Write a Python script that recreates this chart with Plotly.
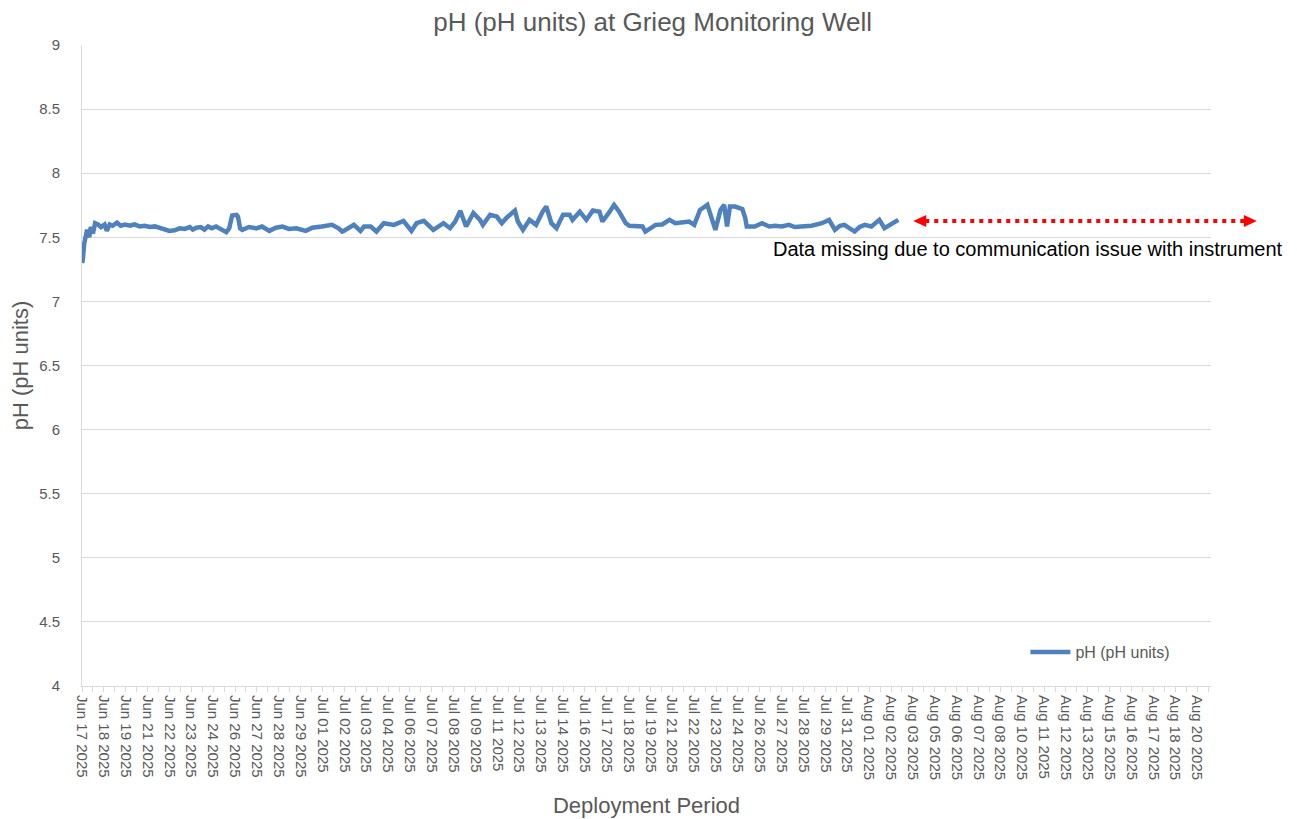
import plotly.graph_objects as go

# ---- data (hours since deployment start, pH) ----
hours = [0, 1, 3, 4, 7, 10, 12, 15, 18, 22, 26, 31, 34, 38, 42, 48, 53, 59, 66, 72,
         79, 86, 93, 100, 107, 113, 120, 127, 134, 141, 148, 152, 157, 163, 168, 173,
         178, 184, 193, 198, 202, 206, 212, 214, 217, 220, 229, 239, 247, 257, 266,
         275, 284, 294, 307, 316, 329, 343, 352, 357, 359, 373, 382, 387, 396, 404,
         414, 428, 441, 452, 459, 469, 482, 496, 505, 512, 519, 525, 527, 537, 546,
         550, 560, 569, 576, 582, 594, 598, 605, 614, 623, 632, 637, 644, 651, 660,
         669, 673, 683, 692, 701, 710, 714, 724, 730, 737, 746, 751, 769, 773, 787,
         796, 806, 814, 824, 833, 840, 848, 858, 865, 869, 876, 881, 885, 889, 896,
         906, 910, 912, 923, 933, 943, 951, 960, 970, 978, 988, 1001, 1015, 1025,
         1033, 1040, 1046, 1053, 1060, 1067, 1074, 1083, 1094, 1101, 1111, 1120]
ph = [7.30, 7.32, 7.45, 7.47, 7.56, 7.50, 7.58, 7.53, 7.61, 7.60, 7.58, 7.60, 7.55,
      7.60, 7.59, 7.615, 7.59, 7.60, 7.59, 7.60, 7.585, 7.59, 7.58, 7.585, 7.57, 7.56,
      7.55, 7.555, 7.57, 7.565, 7.58, 7.56, 7.575, 7.58, 7.56, 7.585, 7.57, 7.584,
      7.558, 7.54, 7.57, 7.67, 7.675, 7.66, 7.57, 7.558, 7.58, 7.57, 7.584, 7.55,
      7.575, 7.584, 7.565, 7.57, 7.55, 7.575, 7.584, 7.597, 7.57, 7.545, 7.55, 7.597,
      7.55, 7.584, 7.584, 7.545, 7.61, 7.597, 7.628, 7.55, 7.61, 7.628, 7.558, 7.61,
      7.571, 7.623, 7.706, 7.61, 7.584, 7.69, 7.636, 7.597, 7.676, 7.662, 7.61, 7.649,
      7.709, 7.623, 7.558, 7.636, 7.597, 7.70, 7.74, 7.61, 7.571, 7.676, 7.676, 7.636,
      7.70, 7.636, 7.709, 7.70, 7.623, 7.70, 7.753, 7.70, 7.61, 7.59, 7.584, 7.545,
      7.597, 7.60, 7.636, 7.61, 7.62, 7.623, 7.597, 7.714, 7.753, 7.62, 7.558, 7.714,
      7.753, 7.584, 7.74, 7.74, 7.72, 7.65, 7.584, 7.584, 7.61, 7.584, 7.59, 7.584,
      7.597, 7.58, 7.584, 7.59, 7.61, 7.636, 7.558, 7.59, 7.597, 7.57, 7.545, 7.58,
      7.597, 7.584, 7.636, 7.571, 7.61, 7.636]

tick_labels = [
    "Jun 17 2025", "Jun 18 2025", "Jun 19 2025", "Jun 21 2025", "Jun 22 2025",
    "Jun 23 2025", "Jun 24 2025", "Jun 26 2025", "Jun 27 2025", "Jun 28 2025",
    "Jun 29 2025", "Jul 01 2025", "Jul 02 2025", "Jul 03 2025", "Jul 04 2025",
    "Jul 06 2025", "Jul 07 2025", "Jul 08 2025", "Jul 09 2025", "Jul 11 2025",
    "Jul 12 2025", "Jul 13 2025", "Jul 14 2025", "Jul 16 2025", "Jul 17 2025",
    "Jul 18 2025", "Jul 19 2025", "Jul 21 2025", "Jul 22 2025", "Jul 23 2025",
    "Jul 24 2025", "Jul 26 2025", "Jul 27 2025", "Jul 28 2025", "Jul 29 2025",
    "Jul 31 2025", "Aug 01 2025", "Aug 02 2025", "Aug 03 2025", "Aug 05 2025",
    "Aug 06 2025", "Aug 07 2025", "Aug 08 2025", "Aug 10 2025", "Aug 11 2025",
    "Aug 12 2025", "Aug 13 2025", "Aug 15 2025", "Aug 16 2025", "Aug 17 2025",
    "Aug 18 2025", "Aug 20 2025"]
label_step_hours = 30
axis_end_hours = 1549

tick_vals = [i * label_step_hours for i in range(len(tick_labels))]

FONT = "Liberation Sans, Arial, sans-serif"
GRAY = "#595959"
GRID = "#d9d9d9"

fig = go.Figure()
fig.add_trace(go.Scatter(
    x=hours, y=ph, mode="lines", name="pH (pH units)",
    line=dict(color="#4F81BD", width=4.5),
))

fig.update_layout(
    width=1297, height=819, autosize=False,
    margin=dict(l=69, r=94, t=37, b=141),
    paper_bgcolor="white", plot_bgcolor="white",
    font=dict(family=FONT, color=GRAY),
    title=dict(text="pH (pH units) at Grieg Monitoring Well", x=0.497, xanchor="center",
               y=0.983, yanchor="middle", font=dict(size=26, color=GRAY, family=FONT)),
    xaxis=dict(
        range=[0, axis_end_hours], tickmode="array", tickvals=tick_vals, ticktext=tick_labels,
        tickangle=90, tickfont=dict(size=15, color=GRAY), ticks="outside", ticklen=5,
        tickcolor=GRID, showgrid=False, showline=True, linecolor=GRID, linewidth=1,
        zeroline=False,
        minor=dict(dtick=label_step_hours / 2, tick0=0, ticks="outside", ticklen=5,
                   tickcolor=GRID, showgrid=False),
        title=dict(text="Deployment Period", font=dict(size=22, color=GRAY), standoff=18),
    ),
    yaxis=dict(
        range=[4, 9], dtick=0.5, showgrid=True, gridcolor=GRID, gridwidth=1,
        zeroline=False, showline=True, linecolor=GRID, linewidth=1,
        tickfont=dict(size=15, color=GRAY), ticks="", ticklabelstandoff=18,
        title=dict(text="pH (pH units)", font=dict(size=22, color=GRAY), standoff=4),
    ),
    legend=dict(x=0.8356, y=0.053, xanchor="left", yanchor="middle", bgcolor="rgba(0,0,0,0)",
                font=dict(size=16, color=GRAY), itemwidth=40),
    showlegend=True,
)

# annotation for missing data (red dotted double arrow + note)
ay = 0.7254
fig.add_shape(type="line", xref="paper", yref="paper", x0=0.7469, x1=1.0300, y0=ay, y1=ay,
              line=dict(color="#FF0000", width=4, dash="4px,5px"))
fig.add_shape(type="path", xref="paper", yref="paper",
              path=f"M 0.7363 {ay} L 0.7478 {ay+0.0094} L 0.7478 {ay-0.0094} Z",
              fillcolor="#FF0000", line=dict(width=0))
fig.add_shape(type="path", xref="paper", yref="paper",
              path=f"M 1.0406 {ay} L 1.0291 {ay+0.0094} L 1.0291 {ay-0.0094} Z",
              fillcolor="#FF0000", line=dict(width=0))
fig.add_annotation(text="Data missing due to communication issue with instrument",
                   xref="paper", yref="paper", x=0.8377, y=0.6817, showarrow=False,
                   xanchor="center", yanchor="middle",
                   font=dict(size=20, color="black", family=FONT))

fig.write_html("out.html")
